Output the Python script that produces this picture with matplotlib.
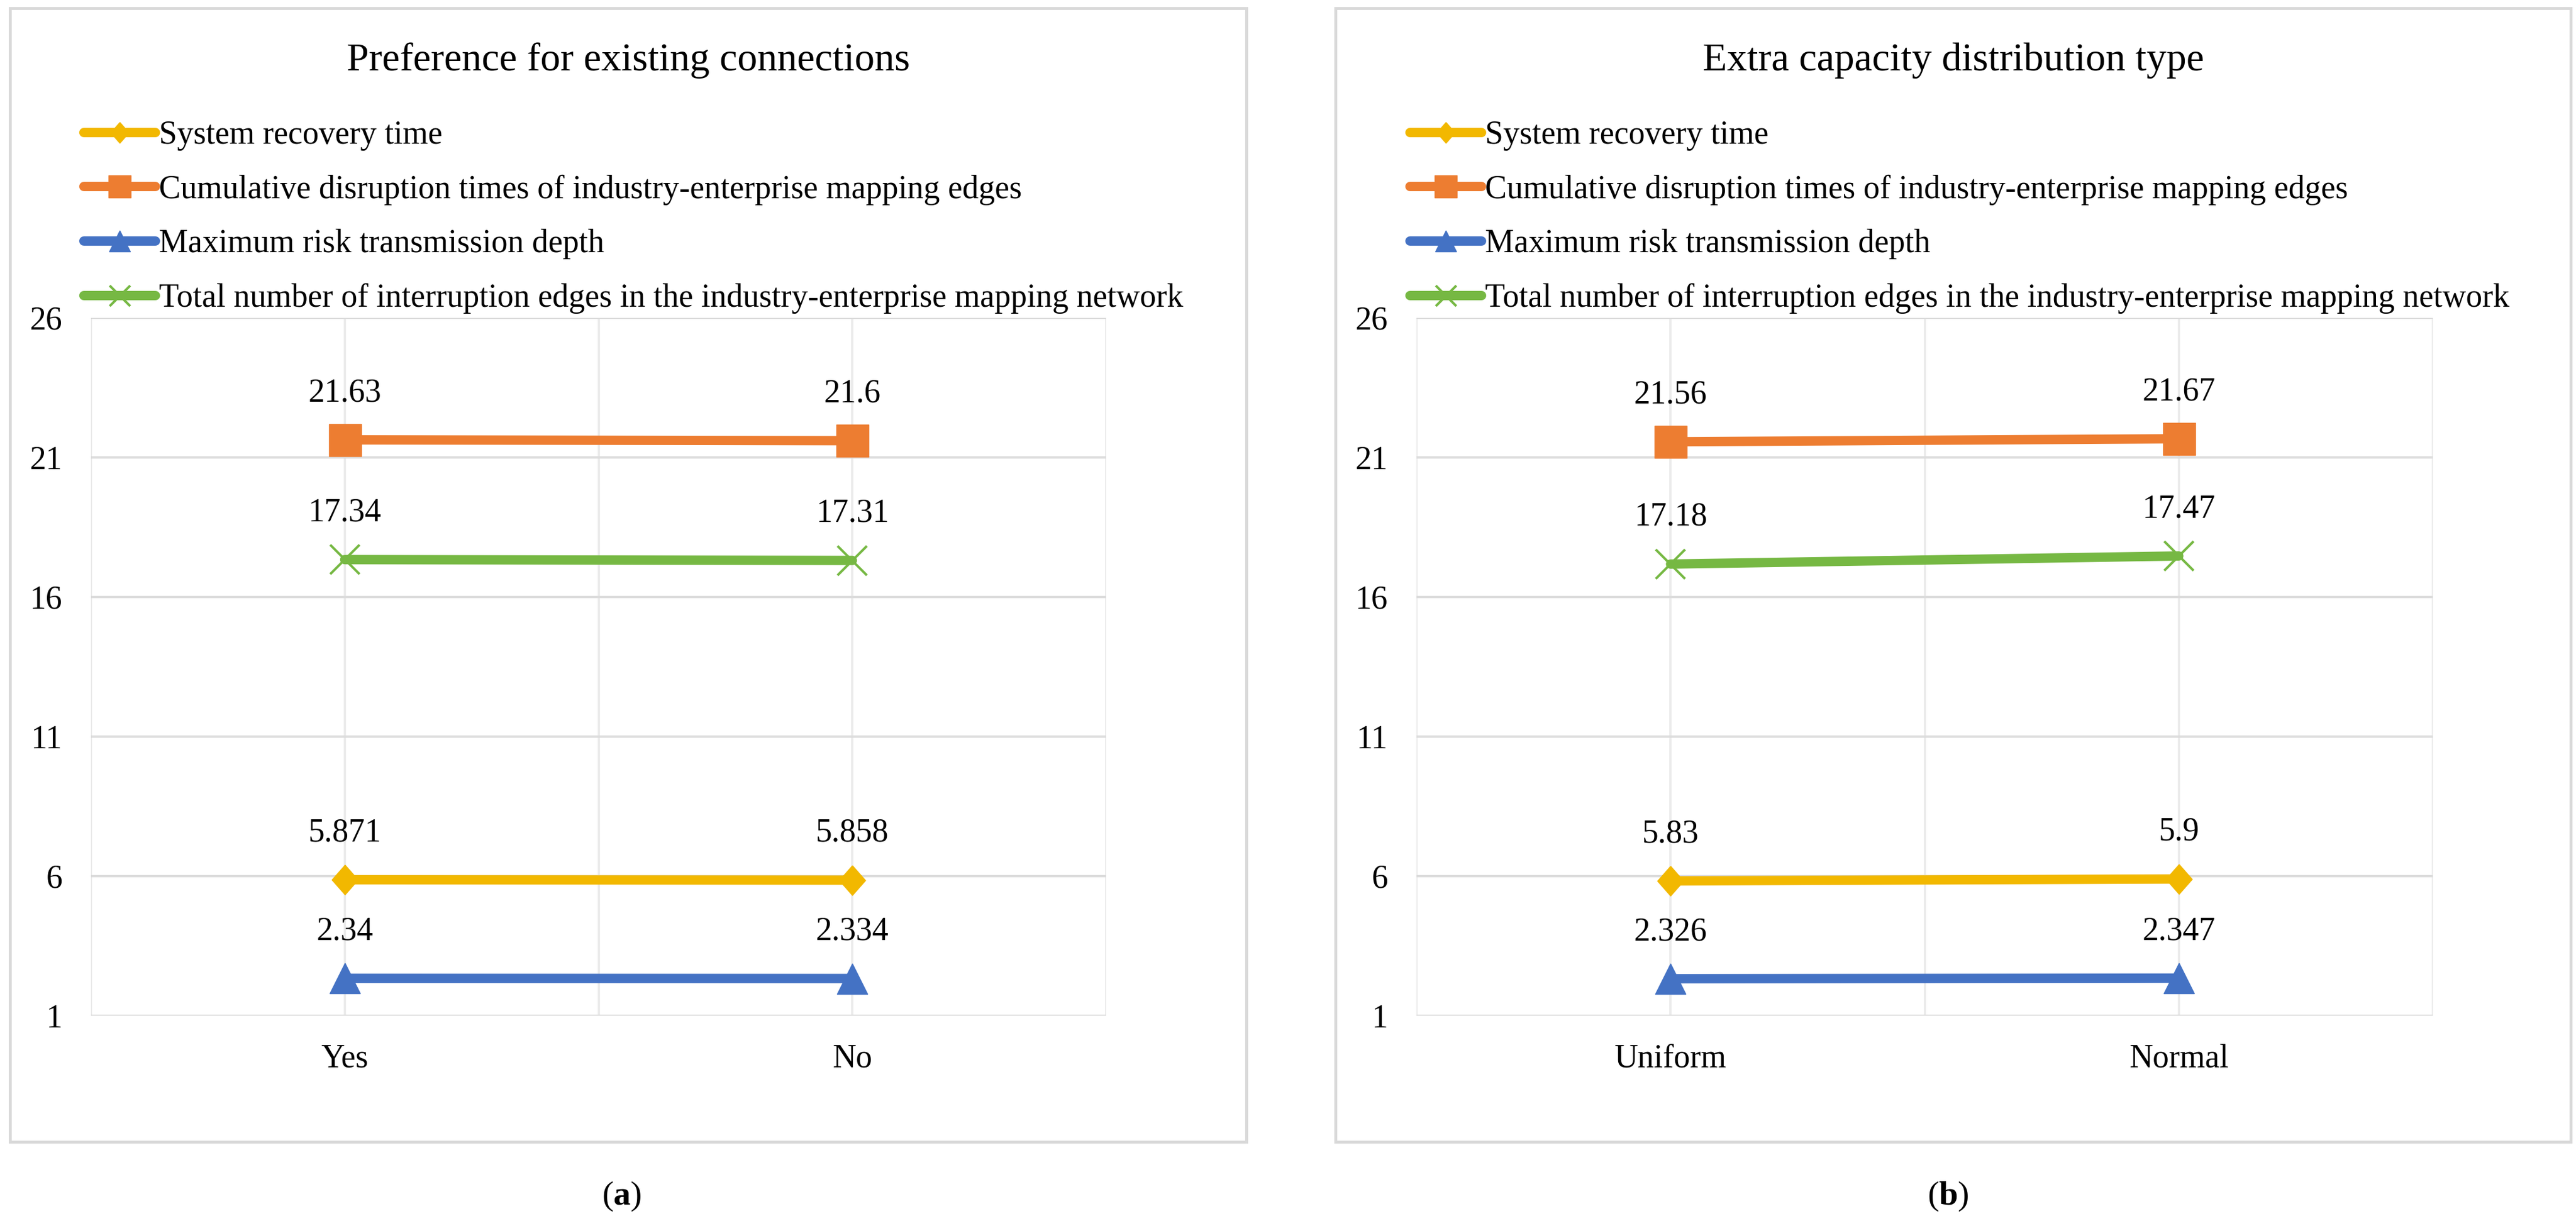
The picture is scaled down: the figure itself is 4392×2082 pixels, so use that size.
import matplotlib
matplotlib.use("Agg")
import matplotlib.pyplot as plt
from matplotlib.patches import Rectangle

plt.rcParams['font.family'] = ['Liberation Serif', 'DejaVu Serif']
plt.rcParams['mathtext.fontset'] = 'custom'
plt.rcParams['mathtext.rm'] = 'Liberation Serif'
plt.rcParams['mathtext.bf'] = 'Liberation Serif:bold'

# ---------------- data ----------------
series_names = [
    "System recovery time",
    "Cumulative disruption times of industry-enterprise mapping edges",
    "Maximum risk transmission depth",
    "Total number of interruption edges in the industry-enterprise mapping network",
]
titles = ["Preference for existing connections", "Extra capacity distribution type"]
captions = ["a", "b"]

categories_a = ["Yes", "No"]
recovery_a = [5.871, 5.858]
cumulative_a = [21.63, 21.6]
depth_a = [2.34, 2.334]
total_a = [17.34, 17.31]

categories_b = ["Uniform", "Normal"]
recovery_b = [5.83, 5.9]
cumulative_b = [21.56, 21.67]
depth_b = [2.326, 2.347]
total_b = [17.18, 17.47]

y_ticks = [1, 6, 11, 16, 21, 26]

# ---------------- style ----------------
colors = ["#F2B800", "#ED7D31", "#4472C4", "#76B843"]
diamond = [(0, 1), (0.88, 0), (0, -1), (-0.88, 0), (0, 1)]
markers = [diamond, "s", "^", "x"]
msizes = [18.3, 19.8, 19.0, 18.0]
mews = [0.5, 0.5, 0.5, 1.5]

W, H = 4392, 2082
fig = plt.figure(figsize=(W / 200, H / 200), dpi=200)

panels = [
    dict(cats=categories_a, vals=[recovery_a, cumulative_a, depth_a, total_a],
         ax=(155, 1886), box=(17, 2125), title_x=1071, cap_x=1060, leg_x=143),
    dict(cats=categories_b, vals=[recovery_b, cumulative_b, depth_b, total_b],
         ax=(2415, 4148), box=(2277, 4383), title_x=3330, cap_x=3321, leg_x=2404),
]

ax_top, ax_bot = 542, 1732

for i, p in enumerate(panels):
    # panel frame
    bx0, bx1 = p["box"]
    fig.add_artist(Rectangle((bx0 / W, 1 - 1947 / H), (bx1 - bx0) / W, (1947 - 14) / H,
                             transform=fig.transFigure, fill=False,
                             ec="#d9d9d9", lw=1.8, zorder=0))
    x0, x1 = p["ax"]
    ax = fig.add_axes([x0 / W, 1 - ax_bot / H, (x1 - x0) / W, (ax_bot - ax_top) / H])
    xs = list(range(1, len(p["cats"]) + 1))
    handles = []
    for j, vals in enumerate(p["vals"]):
        ln, = ax.plot(xs, vals, color=colors[j], lw=5.75, marker=markers[j],
                      markersize=msizes[j], markerfacecolor=colors[j],
                      markeredgecolor=colors[j], markeredgewidth=mews[j],
                      solid_capstyle="round", zorder=3, clip_on=False,
                      label=series_names[j])
        handles.append(ln)
        for x, v in zip(xs, vals):
            ax.annotate(f"{v:g}", (x, v), xytext=(0, 23.7), textcoords="offset points",
                        ha="center", va="baseline", fontsize=20, color="black")
    ax.set_xlim(0.5, 2.5)
    ax.set_ylim(1, 26)
    ax.set_yticks(y_ticks)
    ax.set_xticks(xs)
    ax.set_xticklabels(p["cats"])
    ax.set_xticks([0.5, 1.5, 2.5], minor=True)
    ax.grid(axis="y", which="major", color="#dcdcdc", lw=1.4, zorder=0)
    ax.grid(axis="x", which="both", color="#ebebeb", lw=1.4, zorder=0)
    for s in ax.spines.values():
        s.set_visible(False)
    ax.tick_params(axis="both", which="both", length=0, labelsize=20)
    ax.tick_params(axis="y", pad=17.6)
    ax.tick_params(axis="x", pad=17)
    ax.set_axisbelow(True)

    leg = ax.legend(handles=handles, loc="upper left",
                    bbox_to_anchor=(p["leg_x"] / W, 1 - 205 / H),
                    bbox_transform=fig.transFigure, frameon=False, fontsize=20,
                    handlelength=2.2, handletextpad=0.1, labelspacing=0.73,
                    borderpad=0, borderaxespad=0, markerscale=0.7)

    fig.text(p["title_x"] / W, 1 - 120 / H, titles[i], ha="center", va="baseline",
             fontsize=24.5)
    fig.text(p["cap_x"] / W, 1 - 2040 / H, r"($\mathbf{" + captions[i] + r"}$)",
             ha="center", va="center", fontsize=21)

fig.savefig("out.png", dpi=200, facecolor="white")
